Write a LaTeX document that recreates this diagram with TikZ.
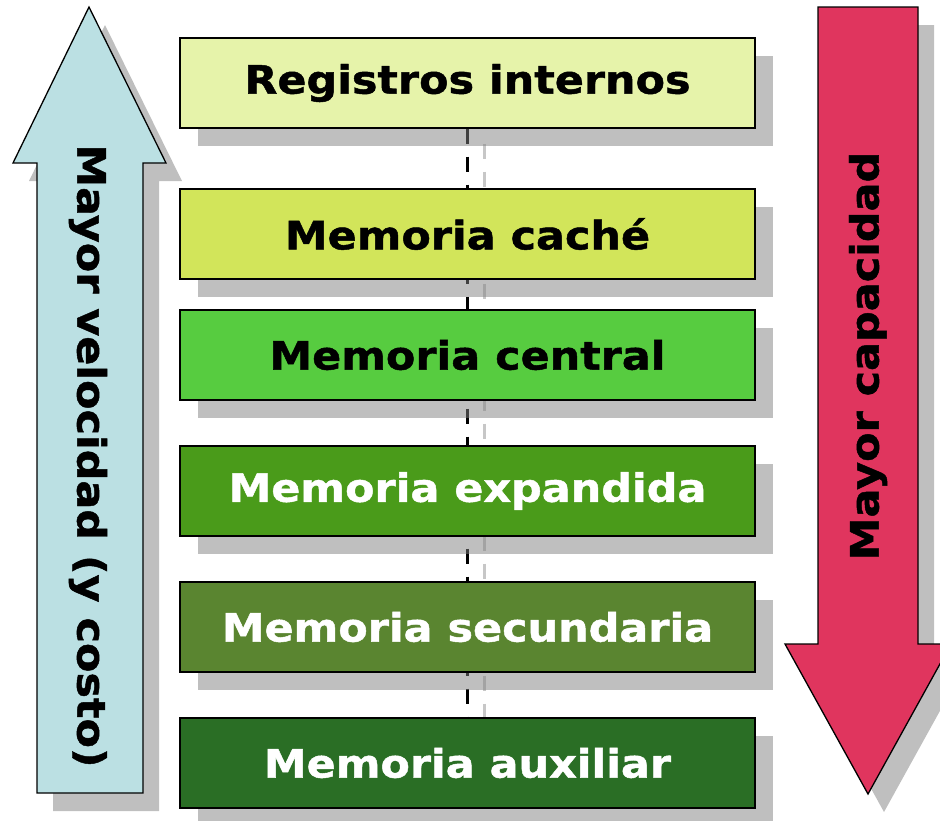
\documentclass[tikz,border=0pt]{standalone}
\usepackage{fontspec}
\setmainfont{DejaVu Sans}
\newfontfamily\anchafont[FakeStretch=1.1, BoldFeatures={FakeBold=1.2}]{DejaVu Sans}
\usepackage{tikz}
\usetikzlibrary{shadows}
\usetikzlibrary{backgrounds}

% Colores de la jerarquía
\definecolor{regcol}{RGB}{230,243,170}
\definecolor{cachecol}{RGB}{210,229,90}
\definecolor{centralcol}{RGB}{87,204,64}
\definecolor{expcol}{RGB}{74,155,26}
\definecolor{seccol}{RGB}{90,133,48}
\definecolor{auxcol}{RGB}{42,110,37}
\definecolor{velcol}{RGB}{187,224,227}
\definecolor{capcol}{RGB}{224,53,94}

\begin{document}
\begin{tikzpicture}[
    x=1pt, y=-1pt, % Coordenadas en píxeles, eje y hacia abajo
    sombra/.style={drop shadow={fill=gray, opacity=0.5, shadow xshift=18pt, shadow yshift=-18pt}},
    nivel/.style={draw, line width=1.3pt, minimum width=575pt, minimum height=90pt,
        font=\anchafont\bfseries\fontsize{39}{40}\selectfont, sombra}, % Cajas de memoria
    flecha/.style={draw, line width=1.3pt, drop shadow={fill=gray, opacity=0.5, shadow xshift=16pt, shadow yshift=-18pt}},
    rotulo/.style={font=\anchafont\bfseries\fontsize{39}{40}\selectfont}, % Texto de las flechas
    trazos/.style={line width=3pt, dash pattern=on 15pt off 13pt}
]
    \useasboundingbox (0,0) rectangle (940,820);

    % --- Flechas laterales ---
    \path[flecha, fill=velcol] (89,7) -- (166,163) -- (143,163) -- (143,793)
        -- (37,793) -- (37,163) -- (13,163) -- cycle;
    \path[flecha, fill=capcol] (818,7) -- (918,7) -- (918,644) -- (951,644)
        -- (868,794) -- (785,644) -- (818,644) -- cycle;
    \node[rotulo, rotate=-90] (vel) at (88,456) {Mayor velocidad (y costo)};
    \node[rotulo, rotate=90] (cap) at (868,356) {Mayor capacidad};

    % --- Niveles de la jerarquía ---
    \node[nivel, fill=regcol] (reg) at (467.5,83) {Registros internos};
    \node[nivel, fill=cachecol] (cache) at (467.5,234) {Memoria caché};
    \node[nivel, fill=centralcol] (central) at (467.5,355) {Memoria central};
    \node[nivel, fill=expcol, text=white] (exp) at (467.5,491) {Memoria expandida};
    \node[nivel, fill=seccol, text=white] (sec) at (467.5,627) {Memoria secundaria};
    \node[nivel, fill=auxcol, text=white] (aux) at (467.5,763) {Memoria auxiliar};

    % --- Línea a trazos que une los niveles (detrás de las cajas) ---
    \begin{scope}[on background layer]
        \draw[trazos, black!22] ([shift={(17,15)}]reg.south) -- ([shift={(17,15)}]aux.north); % Sombra de la línea
        \draw[trazos] (reg.south) -- (aux.north);
    \end{scope}

\end{tikzpicture}
\end{document}
